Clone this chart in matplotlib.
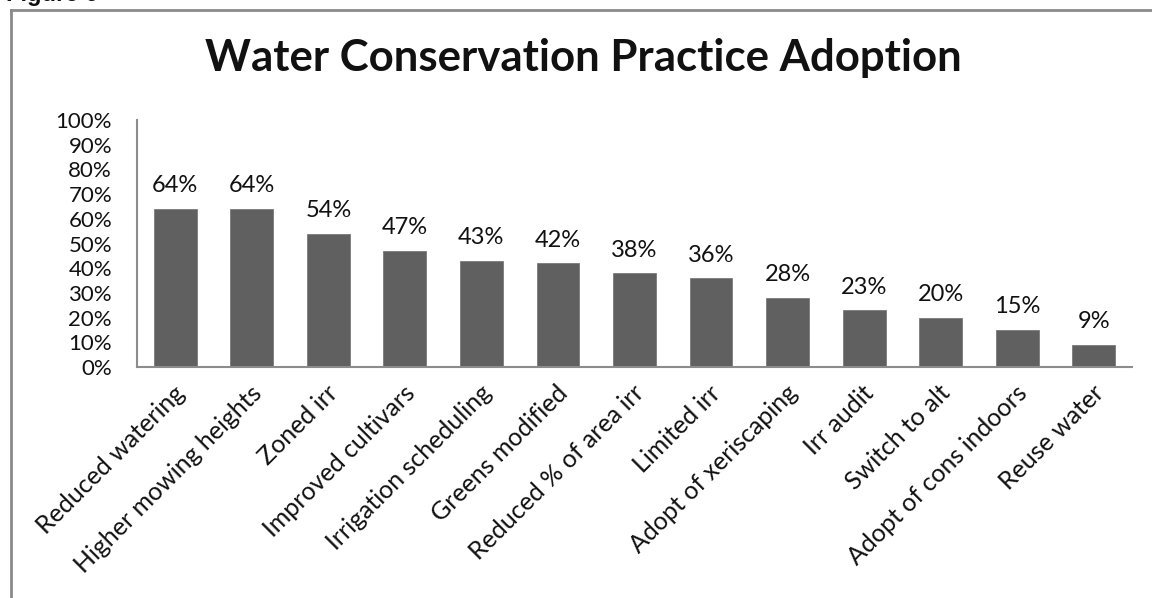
import matplotlib
matplotlib.use("Agg")
import matplotlib.pyplot as plt
import matplotlib.transforms as mtransforms
from matplotlib.lines import Line2D
from matplotlib.ticker import PercentFormatter, MultipleLocator

practices = [
    "Reduced watering", "Higher mowing heights", "Zoned irr", "Improved cultivars",
    "Irrigation scheduling", "Greens modified", "Reduced % of area irr", "Limited irr",
    "Adopt of xeriscaping", "Irr audit", "Switch to alt", "Adopt of cons indoors",
    "Reuse water",
]
adoption_pct = [64, 64, 54, 47, 43, 42, 38, 36, 28, 23, 20, 15, 9]

plt.rcParams["font.family"] = ["Lato", "DejaVu Sans"]

W, H = 1152, 598
fig = plt.figure(figsize=(W / 100, H / 100), dpi=100)

ax = fig.add_axes([137 / W, 1 - 367 / H, (1132 - 137) / W, (367 - 120) / H])

x = range(len(practices))
vals = [v / 100 for v in adoption_pct]
bars = ax.bar(x, vals, width=0.56, color="#606060", edgecolor="#7a7a7a", linewidth=0.6, zorder=2)

for b, v in zip(bars, adoption_pct):
    ax.annotate(f"{v}%", (b.get_x() + b.get_width() / 2, b.get_height()),
                xytext=(0, 9), textcoords="offset points",
                ha="center", va="bottom", fontsize=17, color="#111111")

ax.set_xlim(-0.5, len(practices) - 0.5)
ax.set_ylim(0, 1)
ax.yaxis.set_major_locator(MultipleLocator(0.1))
ax.yaxis.set_major_formatter(PercentFormatter(1.0, decimals=0))

for side in ("top", "right"):
    ax.spines[side].set_visible(False)
for side in ("left", "bottom"):
    ax.spines[side].set_color("#8c8c8c")
    ax.spines[side].set_linewidth(1.5)

ax.tick_params(axis="y", length=0, pad=18, labelsize=16, labelcolor="#111111")
ax.tick_params(axis="x", length=0, pad=16, labelsize=18, labelcolor="#111111")
ax.set_xticks(list(x))
ax.set_xticklabels(practices, rotation=45, ha="right", va="center", rotation_mode="anchor")
shift = mtransforms.ScaledTranslation(6 / 100, 0, fig.dpi_scale_trans)
for lbl in ax.get_xticklabels():
    lbl.set_transform(lbl.get_transform() + shift)

fig.text(0.506, 1 - 58 / H, "Water Conservation Practice Adoption",
         ha="center", va="center", fontsize=31.5, fontweight="bold", color="#111111")

# frame around the chart area
fig.add_artist(Line2D([10.5 / W, 10.5 / W], [0, 1 - 9.5 / H], transform=fig.transFigure,
                      color="#8a8a8a", linewidth=2))
fig.add_artist(Line2D([10.5 / W, 1], [1 - 9.5 / H, 1 - 9.5 / H], transform=fig.transFigure,
                      color="#8a8a8a", linewidth=2))

fig.text(6 / W, 1 - 1.5 / H, "Figure 6", ha="left", va="baseline",
         fontsize=17, fontweight="bold", family="Liberation Sans", color="#111111")

fig.savefig("out.png", dpi=100)
